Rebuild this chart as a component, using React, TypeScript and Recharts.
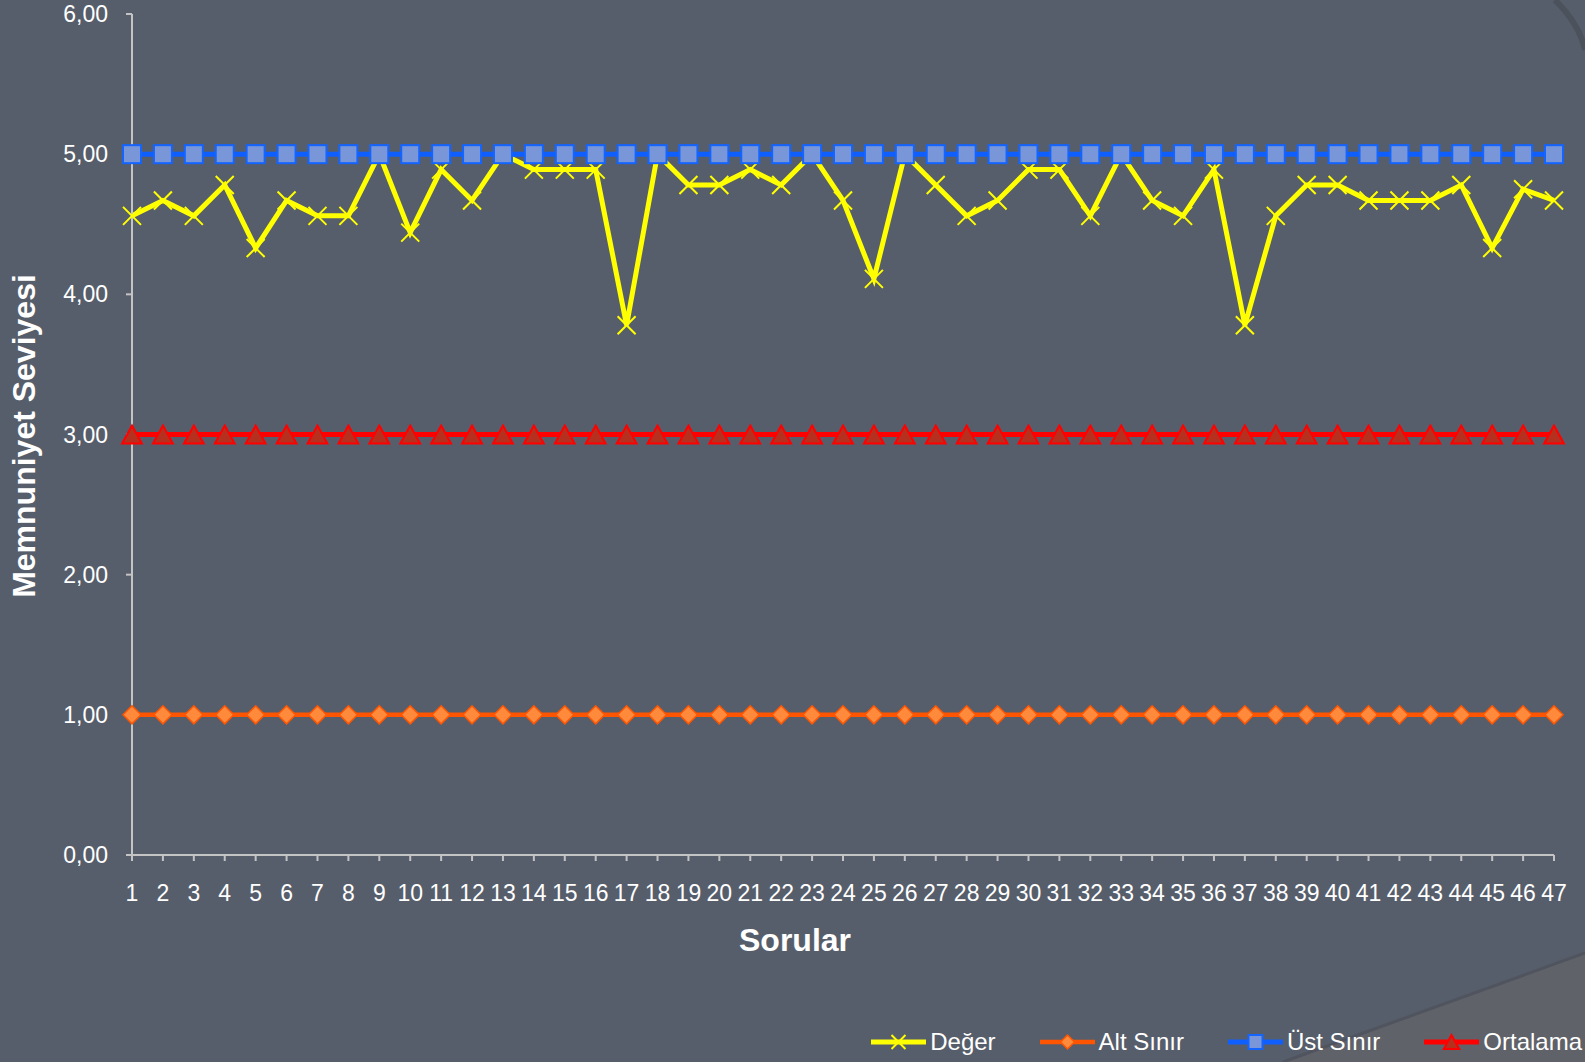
import { Legend, Line, LineChart, XAxis, YAxis } from "recharts";

const categories = [
  "1", "2", "3", "4", "5", "6", "7", "8", "9", "10",
  "11", "12", "13", "14", "15", "16", "17", "18", "19", "20",
  "21", "22", "23", "24", "25", "26", "27", "28", "29", "30",
  "31", "32", "33", "34", "35", "36", "37", "38", "39", "40",
  "41", "42", "43", "44", "45", "46", "47",
];

const deger = [
  4.56, 4.67, 4.56, 4.78, 4.33, 4.67, 4.56, 4.56, 5.0, 4.44,
  4.89, 4.67, 5.0, 4.89, 4.89, 4.89, 3.78, 5.0, 4.78, 4.78,
  4.89, 4.78, 5.0, 4.67, 4.11, 5.0, 4.78, 4.56, 4.67, 4.89,
  4.89, 4.56, 5.0, 4.67, 4.56, 4.89, 3.78, 4.56, 4.78, 4.78,
  4.67, 4.67, 4.67, 4.78, 4.33, 4.75, 4.67,
];

const altSinir = [
  1, 1, 1, 1, 1, 1, 1, 1, 1, 1, 1, 1, 1, 1, 1, 1, 1, 1, 1, 1, 1, 1, 1, 1,
  1, 1, 1, 1, 1, 1, 1, 1, 1, 1, 1, 1, 1, 1, 1, 1, 1, 1, 1, 1, 1, 1, 1,
];

const ustSinir = [
  5, 5, 5, 5, 5, 5, 5, 5, 5, 5, 5, 5, 5, 5, 5, 5, 5, 5, 5, 5, 5, 5, 5, 5,
  5, 5, 5, 5, 5, 5, 5, 5, 5, 5, 5, 5, 5, 5, 5, 5, 5, 5, 5, 5, 5, 5, 5,
];

const ortalama = [
  3, 3, 3, 3, 3, 3, 3, 3, 3, 3, 3, 3, 3, 3, 3, 3, 3, 3, 3, 3, 3, 3, 3, 3,
  3, 3, 3, 3, 3, 3, 3, 3, 3, 3, 3, 3, 3, 3, 3, 3, 3, 3, 3, 3, 3, 3, 3,
];

const yTicks = [0, 1, 2, 3, 4, 5, 6];

const data = categories.map((soru, i) => ({
  soru,
  deger: deger[i],
  altSinir: altSinir[i],
  ustSinir: ustSinir[i],
  ortalama: ortalama[i],
}));

const FONT = '"Liberation Sans", Arial, sans-serif';
const BG = "#575e6b";
const AXIS = "#c4c4c4";

// marker shapes, r = half size
const crossMark = (cx: number, cy: number, r: number) => (
  <path
    d={`M${cx - r},${cy - r}L${cx + r},${cy + r}M${cx + r},${cy - r}L${cx - r},${cy + r}`}
    stroke="#ffff00"
    strokeWidth={2}
    fill="none"
  />
);
const diamondMark = (cx: number, cy: number, r: number) => (
  <polygon
    points={`${cx},${cy - r} ${cx + r},${cy} ${cx},${cy + r} ${cx - r},${cy}`}
    fill="#ff8a3c"
    stroke="#ff5500"
    strokeWidth={1.5}
  />
);
const squareMark = (cx: number, cy: number, r: number) => (
  <rect x={cx - r} y={cy - r} width={r * 2} height={r * 2} fill="#7896d8" stroke="#1464ff" strokeWidth={2} />
);
const triangleMark = (cx: number, cy: number, r: number) => (
  <polygon
    points={`${cx},${cy - r} ${cx + r * 1.1},${cy + r} ${cx - r * 1.1},${cy + r}`}
    fill="#b5301e"
    stroke="#ff0000"
    strokeWidth={2}
  />
);

const series = [
  { key: "deger", name: "Değer", color: "#ffff00", width: 5, mark: crossMark, r: 9, lr: 7 },
  { key: "altSinir", name: "Alt Sınır", color: "#ff5500", width: 4.5, mark: diamondMark, r: 9, lr: 7 },
  { key: "ustSinir", name: "Üst Sınır", color: "#0f5fff", width: 5, mark: squareMark, r: 9, lr: 7 },
  { key: "ortalama", name: "Ortalama", color: "#ff0000", width: 5, mark: triangleMark, r: 9, lr: 7 },
];

function LegendContent() {
  return (
    <div
      style={{
        display: "flex",
        justifyContent: "flex-end",
        alignItems: "center",
        height: 40,
        gap: 44,
        fontFamily: FONT,
        fontSize: 24,
        color: "#ffffff",
      }}
    >
      {series.map((s) => (
        <div key={s.key} style={{ display: "flex", alignItems: "center", gap: 4 }}>
          <svg width={55} height={20}>
            <line x1={0} y1={10} x2={55} y2={10} stroke={s.color} strokeWidth={s.width} />
            {s.mark(27.5, 10, s.lr)}
          </svg>
          <span>{s.name}</span>
        </div>
      ))}
    </div>
  );
}

export default function App() {
  return (
    <div
      style={{
        position: "absolute",
        top: 0,
        left: 0,
        width: 1585,
        height: 1062,
        background: BG,
        overflow: "hidden",
        fontFamily: FONT,
      }}
    >
      <svg width={1585} height={1062} style={{ position: "absolute", top: 0, left: 0 }}>
        <polygon points="1283,1062 1585,953 1585,1062" fill="#606269" />
        <line x1={1283} y1={1062} x2={1585} y2={953} stroke="#50545e" strokeWidth={3} />
        <path d="M1555,0 Q1580,25 1585,50" stroke="#4c525c" strokeWidth={6} fill="none" />
      </svg>
      <div style={{ position: "absolute", top: 0, left: 0 }}>
        <LineChart width={1585} height={1062} data={data} margin={{ top: 14, right: 31, left: 0, bottom: 0 }}>
          <XAxis
            dataKey="soru"
            height={167}
            interval={0}
            stroke={AXIS}
            strokeWidth={2}
            tickSize={6}
            tickMargin={24}
            tick={{ fill: "#ffffff", fontSize: 23, fontFamily: FONT }}
          />
          <YAxis
            width={132}
            domain={[0, 6]}
            ticks={yTicks}
            interval={0}
            stroke={AXIS}
            strokeWidth={2}
            tickSize={6}
            tickMargin={18}
            tickFormatter={(v: number) => v.toFixed(2).replace(".", ",")}
            tick={{ fill: "#ffffff", fontSize: 23, fontFamily: FONT }}
          />
          <Legend
            verticalAlign="bottom"
            align="right"
            content={() => <LegendContent />}
            wrapperStyle={{ left: 0, right: 3, width: "auto", bottom: 0, height: 40 }}
          />
          {series.map((s) => (
            <Line
              key={s.key}
              type="linear"
              dataKey={s.key}
              name={s.name}
              stroke={s.color}
              strokeWidth={s.width}
              isAnimationActive={false}
              activeDot={false}
              dot={(p: any) => (
                <g key={`${s.key}-${p.index}`}>{p.cx == null ? null : s.mark(p.cx, p.cy, s.r)}</g>
              )}
            />
          ))}
        </LineChart>
      </div>
      <div
        style={{
          position: "absolute",
          left: 24,
          top: 436,
          transform: "translate(-50%, -50%) rotate(-90deg)",
          whiteSpace: "nowrap",
          fontSize: 32,
          fontWeight: "bold",
          color: "#ffffff",
        }}
      >
        Memnuniyet Seviyesi
      </div>
      <div
        style={{
          position: "absolute",
          left: 795,
          top: 940,
          transform: "translate(-50%, -50%)",
          whiteSpace: "nowrap",
          fontSize: 32,
          fontWeight: "bold",
          color: "#ffffff",
        }}
      >
        Sorular
      </div>
    </div>
  );
}
